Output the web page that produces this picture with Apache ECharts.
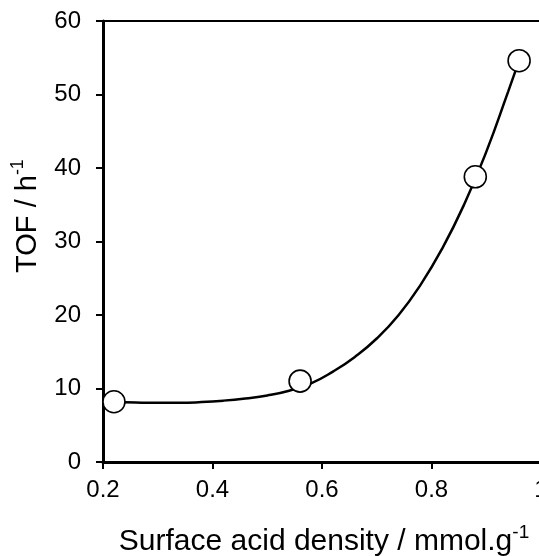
<!DOCTYPE html>
<html>
<head>
<meta charset="utf-8">
<script src="https://cdn.jsdelivr.net/npm/echarts@6/dist/echarts.min.js"></script>
<style>
html,body{margin:0;padding:0;background:#fff;}
#c{width:539px;height:556px;}
</style>
</head>
<body>
<div id="c"></div>
<script>
// measured data points
const acidDensity = [0.22, 0.56, 0.88, 0.96];
const tof = [8.2, 11.0, 38.8, 54.6];
// fitted trend curve
const curveX = [0.22, 0.26, 0.30, 0.34, 0.38, 0.42, 0.46, 0.50, 0.54, 0.58, 0.62, 0.66, 0.70, 0.74, 0.78, 0.82, 0.86, 0.90, 0.94, 0.96];
const curveY = [8.2, 8.1, 8.05, 8.05, 8.15, 8.35, 8.65, 9.05, 9.7, 10.7, 12.3, 14.3, 16.8, 20.0, 24.1, 29.1, 35.1, 42.2, 50.4, 54.6];
// axis ranges
const xRange = [0.2, 1.0, 0.2];
const yRange = [0, 60, 10];
const xTitle = 'Surface acid density / mmol.g';
const yTitle = 'TOF / h';
const superscript = '-1';

const font = 'Liberation Sans, Arial, sans-serif';
const chart = echarts.init(document.getElementById('c'));
chart.setOption({
  animation: false,
  backgroundColor: '#fff',
  grid: {left: 103, right: -2, top: 21, bottom: 94, containLabel: false, outerBoundsMode: 'none',
         show: true, borderColor: '#000', borderWidth: 2, backgroundColor: 'transparent'},
  xAxis: {
    type: 'value', min: xRange[0], max: xRange[1], interval: xRange[2],
    axisLine: {show: true, onZero: false, lineStyle: {color: '#000', width: 3}},
    axisTick: {show: true, inside: false, length: 7, lineStyle: {color: '#000', width: 2}},
    axisLabel: {color: '#000', fontSize: 24, fontFamily: font, margin: 16, showMaxLabel: true, showMinLabel: true, hideOverlap: false},
    splitLine: {show: false}
  },
  yAxis: {
    type: 'value', min: yRange[0], max: yRange[1], interval: yRange[2],
    axisLine: {show: true, onZero: false, lineStyle: {color: '#000', width: 3}},
    axisTick: {show: true, inside: false, length: 7, lineStyle: {color: '#000', width: 2}},
    axisLabel: {color: '#000', fontSize: 24, fontFamily: font, margin: 22},
    splitLine: {show: false}
  },
  graphic: [
    {
      type: 'text', x: 324, y: 540,
      style: {
        text: '{a|' + xTitle + '}{b|' + superscript + '}',
        align: 'center', verticalAlign: 'middle',
        rich: {
          a: {fontSize: 30, fontFamily: font, fill: '#000', color: '#000', lineHeight: 34, verticalAlign: 'bottom'},
          b: {fontSize: 19, fontFamily: font, fill: '#000', color: '#000', lineHeight: 34, verticalAlign: 'top'}
        }
      }
    },
    {
      type: 'text', x: 26, y: 216, rotation: Math.PI / 2,
      style: {
        text: '{a|' + yTitle + '}{b|' + superscript + '}',
        align: 'center', verticalAlign: 'middle',
        rich: {
          a: {fontSize: 29, fontFamily: font, fill: '#000', color: '#000', lineHeight: 33, verticalAlign: 'bottom'},
          b: {fontSize: 18, fontFamily: font, fill: '#000', color: '#000', lineHeight: 33, verticalAlign: 'top'}
        }
      }
    }
  ],
  series: [
    {
      type: 'line', smooth: 0.5, symbol: 'none', silent: true,
      data: curveX.map((x, i) => [x, curveY[i]]),
      lineStyle: {color: '#000', width: 2.5}, z: 2
    },
    {
      type: 'scatter', symbol: 'circle', symbolSize: 22,
      data: acidDensity.map((x, i) => [x, tof[i]]),
      itemStyle: {color: '#fff', borderColor: '#000', borderWidth: 1.6, opacity: 1}, z: 3
    }
  ]
});
</script>
</body>
</html>
